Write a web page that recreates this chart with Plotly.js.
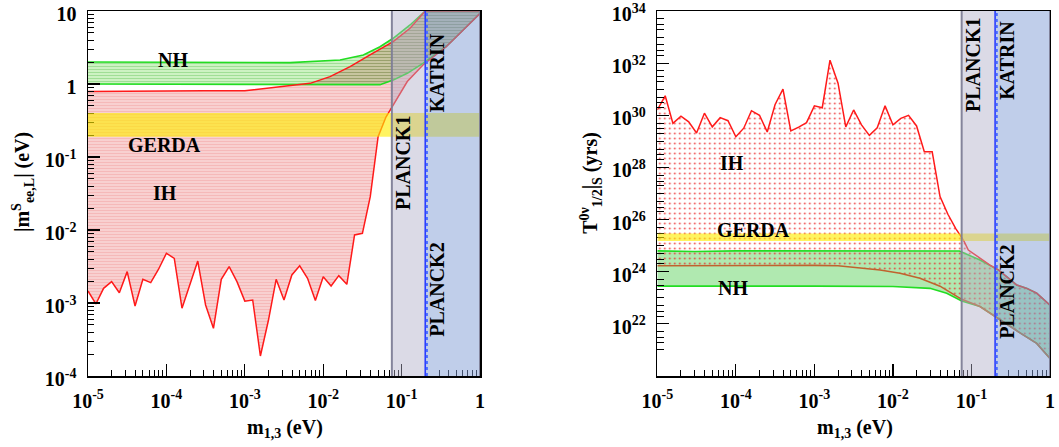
<!DOCTYPE html>
<html><head><meta charset="utf-8">
<script src="https://cdn.plot.ly/plotly-3.0.1.min.js"></script>
<style>body{margin:0;background:#fff}#chart{width:1059px;height:447px}</style>
</head><body><div id="chart"></div>
<script>
// ================= DATA =================
// common 0.1-decade grid of lightest mass m_{1,3} (eV)
const m13Grid = [1.00e-5,1.26e-5,1.58e-5,2.00e-5,2.51e-5,3.16e-5,3.98e-5,5.01e-5,6.31e-5,7.94e-5,
  1.00e-4,1.26e-4,1.58e-4,2.00e-4,2.51e-4,3.16e-4,3.98e-4,5.01e-4,6.31e-4,7.94e-4,
  1.00e-3,1.26e-3,1.58e-3,2.00e-3,2.51e-3,3.16e-3,3.98e-3,5.01e-3,6.31e-3,7.94e-3,
  1.00e-2,1.26e-2,1.58e-2,2.00e-2,2.51e-2,3.16e-2,3.98e-2,5.01e-2,6.31e-2,7.94e-2];

// ---- left panel: |m^S_ee,L| (eV) ----
const ihLowerMeeTailX = [0.118,0.187,0.37,0.61,1.0];
const ihLowerMeeGrid = [1.46e-3,9.7e-4,1.59e-3,1.96e-3,1.38e-3,2.69e-3,9.1e-4,2.11e-3,1.90e-3,2.90e-3,
  4.80e-3,4.09e-3,8.5e-4,1.77e-3,3.76e-3,9.4e-4,4.5e-4,2.11e-3,3.14e-3,1.96e-3,
  1.06e-3,1.10e-3,1.88e-4,5.8e-4,2.11e-3,1.10e-3,2.42e-3,3.24e-3,2.18e-3,1.08e-3,
  2.29e-3,1.71e-3,2.37e-3,1.80e-3,8.55e-3,9.0e-3,2.86e-2,0.190,0.353,0.53];
const ihLowerMeeTail = [1.08,1.82,3.24,5.5,9.3];

const ihUpperMeeX = [1e-5,3e-5,1e-4,3e-4,1e-3,3.78e-3,6.8e-3,0.0122,0.022,0.0395,0.078,0.128,0.2,1.0];
const ihUpperMee  = [0.79,0.80,0.80,0.81,0.81,0.94,1.02,1.26,1.73,2.5,3.8,5.8,10,10];

const nhUpperMeeX = [1e-5,1e-4,1e-3,3.78e-3,0.0164,0.0325,0.053,0.078,0.128,0.2,1.0];
const nhUpperMee  = [2.0,1.98,1.97,1.96,2.13,2.5,3.24,4.23,6.43,10,10];
const nhLowerMeeX = [1e-5,1e-4,1e-3,1e-2,0.053,0.078,0.118,0.187,0.37,0.61,1.0];
const nhLowerMee  = [1.0,0.99,0.99,0.99,0.98,1.13,1.40,1.92,3.24,5.5,9.3];

const gerdaMee = [0.19,0.40];

// ---- right panel: T^{0nu}_{1/2}|_S (yrs) ----
const ihUpperTGrid = [1.6e30,5.6e30,4.9e29,9.3e29,5.6e29,2.1e29,1.2e30,3.6e29,8.1e29,6.2e29,
  1.5e29,3.2e29,1.5e30,1.0e30,2.3e29,2.6e30,1.0e31,2.5e29,3.5e29,5.2e29,
  2.3e30,1.95e30,1.3e32,1.7e31,3.6e29,1.6e30,4.3e29,1.7e29,3.3e29,2.3e30,
  4.3e29,7.6e29,1.0e30,3.9e29,4.0e28,4.0e28,7.6e26,1.6e26,4.5e25,1.6e25];
const ihUpperTTailX = [0.0912,0.1285,0.172,0.220,0.281,0.377,0.505,0.677,1.0];
const ihUpperTTail  = [6.8e24,3.2e24,1.8e24,1.17e24,6.5e23,3.1e23,2.3e23,1.5e23,5.2e22];

const ihLowerTX = [1e-5,1e-4,1e-3,2e-3,5e-3,6.86e-3,0.0123,0.0221,0.0398,0.0752,0.1285,0.231,0.42,0.677,1.0];
const ihLowerT  = [1.7e24,1.75e24,1.75e24,1.7e24,1.35e24,1.17e24,8.7e23,5.6e23,2.8e23,8.7e22,4.6e22,1.41e22,4.4e21,1.78e21,4.7e20];

const nhUpperTX = [1e-5,3e-5,1e-4,1e-3,1e-2,0.0705,0.1285,0.220,0.281,0.377,0.505,0.677,1.0];
const nhUpperT  = [6.3e24,6.0e24,6.3e24,6.4e24,6.3e24,6.2e24,2.8e24,1.17e24,6.5e23,3.1e23,2.3e23,1.5e23,5.2e22];
const nhLowerTX = [1e-5,1e-4,1e-3,1e-2,0.0296,0.0484,0.0752,0.1285,0.231,0.42,0.677,1.0];
const nhLowerT  = [2.8e23,2.85e23,2.8e23,2.7e23,2.3e23,1.48e23,7.5e22,4.6e22,1.41e22,4.4e21,1.78e21,4.7e20];

const gerdaT = [1.5e25,2.9e25];

// experimental / cosmological limits on m_{1,3} (eV)
const planck1Limit = 0.075;
const katrinLimit = 0.2;
const planck2Limit = 0.21;
const axisMaxM = 1.0;

// tick labels
const xTickVals = [1e-5,1e-4,1e-3,1e-2,1e-1,1];
const xTickText = ['10<sup>-5</sup>','10<sup>-4</sup>','10<sup>-3</sup>','10<sup>-2</sup>','10<sup>-1</sup>','1'];
const yLTickVals = [1e-4,1e-3,1e-2,1e-1,1,10];
const yLTickText = ['10<sup>-4</sup>','10<sup>-3</sup>','10<sup>-2</sup>','10<sup>-1</sup>','1','10'];
const yRTickVals = [1e22,1e24,1e26,1e28,1e30,1e32,1e34];
const yRTickText = ['10<sup>22</sup>','10<sup>24</sup>','10<sup>26</sup>','10<sup>28</sup>','10<sup>30</sup>','10<sup>32</sup>','10<sup>34</sup>'];
const yRMinorVals = [1e20,1e21,2e21,3e21,5e21,1e23,2e23,3e23,5e23,1e25,2e25,3e25,5e25,1e27,2e27,3e27,5e27,
  1e29,2e29,3e29,5e29,1e31,2e31,3e31,5e31,1e33,2e33,3e33,5e33,
  2e22,3e22,5e22,2e24,3e24,5e24,2e26,3e26,5e26,2e28,3e28,5e28,2e30,3e30,5e30,2e32,3e32,5e32];

// ================= BUILD =================
const ihLowerMeeX = m13Grid.concat(ihLowerMeeTailX);
const ihLowerMee = ihLowerMeeGrid.concat(ihLowerMeeTail);
const ihUpperTX = m13Grid.concat(ihUpperTTailX);
const ihUpperT = ihUpperTGrid.concat(ihUpperTTail);

function band(ux, uy, lx, ly) {
  return {x: ux.concat(lx.slice().reverse()), y: uy.concat(ly.slice().reverse())};
}
const RED = '#ff1a1a', GREEN = '#22dd22', BROWN = '#c0632e';

const ihL = band(ihUpperMeeX, ihUpperMee, ihLowerMeeX, ihLowerMee);
const nhL = band(nhUpperMeeX, nhUpperMee, nhLowerMeeX, nhLowerMee);
const ihR = band(ihUpperTX, ihUpperT, ihLowerTX, ihLowerT);
const nhR = band(nhUpperTX, nhUpperT, nhLowerTX, nhLowerT);

const traces = [
  // left
  {x: ihL.x, y: ihL.y, xaxis:'x', yaxis:'y', mode:'none', fill:'toself',
   fillcolor:'rgba(248,200,200,0.8)',
   fillpattern:{shape:'-', bgcolor:'rgba(247,200,200,0.85)', fgcolor:'rgba(238,150,150,0.45)', size:3, solidity:0.3}, hoverinfo:'skip'},
  {x: nhL.x, y: nhL.y, xaxis:'x', yaxis:'y', mode:'none', fill:'toself',
   fillcolor:'rgba(200,240,190,0.9)',
   fillpattern:{shape:'-', bgcolor:'rgba(205,242,195,1)', fgcolor:'rgba(120,205,110,0.6)', size:3, solidity:0.3}, hoverinfo:'skip'},
  {x: nhLowerMeeX, y: nhLowerMee, xaxis:'x', yaxis:'y', mode:'lines', line:{color:GREEN, width:1.6}},
  {x: nhUpperMeeX, y: nhUpperMee, xaxis:'x', yaxis:'y', mode:'lines', line:{color:GREEN, width:1.6}},
  {x: ihUpperMeeX, y: ihUpperMee, xaxis:'x', yaxis:'y', mode:'lines', line:{color:RED, width:1.5}},
  {x: ihLowerMeeX, y: ihLowerMee, xaxis:'x', yaxis:'y', mode:'lines', line:{color:RED, width:1.5}},
  // right
  {x: nhR.x, y: nhR.y, xaxis:'x2', yaxis:'y2', mode:'none', fill:'toself',
   fillcolor:'rgba(150,225,150,0.75)', hoverinfo:'skip'},
  {x: ihR.x, y: ihR.y, xaxis:'x2', yaxis:'y2', mode:'none', fill:'toself',
   fillcolor:'rgba(0,0,0,0)',
   fillpattern:{shape:'.', bgcolor:'rgba(255,255,255,0)', fgcolor:'rgba(235,40,40,0.85)', size:5, solidity:0.1}, hoverinfo:'skip'},
  {x: nhUpperTX, y: nhUpperT, xaxis:'x2', yaxis:'y2', mode:'lines', line:{color:GREEN, width:1.6}},
  {x: nhLowerTX, y: nhLowerT, xaxis:'x2', yaxis:'y2', mode:'lines', line:{color:GREEN, width:1.6}},
  {x: ihLowerTX, y: ihLowerT, xaxis:'x2', yaxis:'y2', mode:'lines', line:{color:BROWN, width:1.6}},
  {x: ihUpperTX, y: ihUpperT, xaxis:'x2', yaxis:'y2', mode:'lines', line:{color:RED, width:1.5}}
];

const FONT = 'Liberation Serif';
const tickFont = {family:FONT, size:20, color:'black', weight:'bold'};
function axis(extra) {
  return Object.assign({
    type:'log', showgrid:false, zeroline:false, showline:true, linecolor:'black', linewidth:1.5,
    mirror:true, ticks:'inside', ticklen:12, tickwidth:1.2, tickcolor:'black',
    tickmode:'array', tickfont:tickFont, automargin:false, fixedrange:true, ticklabelstandoff:6,
    ticklabeloverflow:'allow',
    minor:{ticks:'inside', ticklen:6, tickwidth:1, tickcolor:'black', dtick:'D1', showgrid:false}
  }, extra);
}

function limitShapes(xr, yr, gerda) {
  return [
    {type:'rect', xref:xr, yref:yr, x0:1e-5, x1:axisMaxM, y0:gerda[0], y1:gerda[1],
     fillcolor:'rgba(255,238,0,0.62)', line:{width:0}, layer:'above'},
    {type:'rect', xref:xr, yref:yr+' domain', x0:planck1Limit, x1:katrinLimit, y0:0, y1:1,
     fillcolor:'rgba(175,172,200,0.45)', line:{width:0}, layer:'above'},
    {type:'rect', xref:xr, yref:yr+' domain', x0:katrinLimit, x1:axisMaxM, y0:0, y1:1,
     fillcolor:'rgba(129,157,213,0.5)', line:{width:0}, layer:'above'},
    {type:'line', xref:xr, yref:yr+' domain', x0:planck1Limit, x1:planck1Limit, y0:0, y1:1,
     line:{color:'rgba(125,125,150,0.95)', width:2}, layer:'above'},
    {type:'line', xref:xr, yref:yr+' domain', x0:axisMaxM, x1:axisMaxM, y0:0, y1:1,
     line:{color:'rgba(125,125,150,0.95)', width:2}, layer:'above'},
    {type:'line', xref:xr, yref:yr+' domain', x0:katrinLimit, x1:katrinLimit, y0:0, y1:1,
     line:{color:'#2a3cff', width:1.6}, layer:'above'},
    {type:'line', xref:xr, yref:yr+' domain', x0:planck2Limit, x1:planck2Limit, y0:0, y1:1,
     line:{color:'#4a6cff', width:2, dash:'dot'}, layer:'above'}
  ];
}

const txtFont = {family:FONT, size:20, color:'black', weight:'bold'};
function lab(text, xr, yr, x, y, ang) {
  return {text:text, xref:xr, yref:yr, x:x, y:y, showarrow:false, font:txtFont,
          textangle:ang||0, xanchor:'center', yanchor:'middle'};
}

const annotations = [
  lab('NH','x','y',-3.92,0.33),
  lab('GERDA','x','y',-4.02,-0.84),
  lab('IH','x','y',-4.02,-1.49),
  lab('PLANCK1','x','y',-0.98,-1.08,-90),
  lab('KATRIN','x','y',-0.55,0.16,-90),
  lab('PLANCK2','x','y',-0.55,-2.82,-90),
  lab('IH','x2','y2',-4.05,28.17),
  lab('GERDA','x2','y2',-3.78,25.6),
  lab('NH','x2','y2',-4.04,23.37),
  lab('PLANCK1','x2','y2',-0.98,31.93,-90),
  lab('KATRIN','x2','y2',-0.55,32.12,-90),
  lab('PLANCK2','x2','y2',-0.55,23.22,-90),
  // axis titles
  lab('|m<sup>S</sup><sub>ee,L</sub>| (eV)','paper','paper',0.0217,0.5315,-90),
  lab('T<sup>0ν</sup><sub>1/2</sub>|<sub>S</sub> (yrs)','paper','paper',0.558,0.529,-90),
  lab('m<sub>1,3</sub> (eV)','paper','paper',0.2691,-0.1425),
  lab('m<sub>1,3</sub> (eV)','paper','paper',0.8074,-0.1425)
];

const layout = {
  width:1059, height:447,
  margin:{l:0, r:0, t:11, b:71, pad:0},
  paper_bgcolor:'white', plot_bgcolor:'white', showlegend:false,
  xaxis: axis({domain:[0.0831,0.4533], range:[-5.00001,0.00001], anchor:'y', tickvals:xTickVals, ticktext:xTickText}),
  yaxis: axis({domain:[0,1], range:[-4.00001,1.00001], anchor:'x', tickvals:yLTickVals, ticktext:yLTickText, ticklabelshift:3}),
  xaxis2: axis({domain:[0.6207,0.9915], range:[-5.00001,0.00001], anchor:'y2', tickvals:xTickVals, ticktext:xTickText}),
  yaxis2: axis({domain:[0,1], range:[19.99999,34.00001], anchor:'x2', tickvals:yRTickVals, ticktext:yRTickText, ticklabelshift:3,
     minor:{ticks:'inside', ticklen:7, tickwidth:1, tickcolor:'black', tickvals:yRMinorVals, showgrid:false}}),
  shapes: limitShapes('x','y',gerdaMee).concat(limitShapes('x2','y2',gerdaT)),
  annotations: annotations
};

Plotly.newPlot('chart', traces, layout, {staticPlot:true, displayModeBar:false}).then(function(){
  // overlap of NH and IH hatches looks brownish: multiply-blend the NH fill of the left panel
  const tr = document.querySelectorAll('.scatterlayer .trace');
  if (tr.length > 1) tr[1].style.mixBlendMode = 'multiply';
});
</script>
</body></html>
